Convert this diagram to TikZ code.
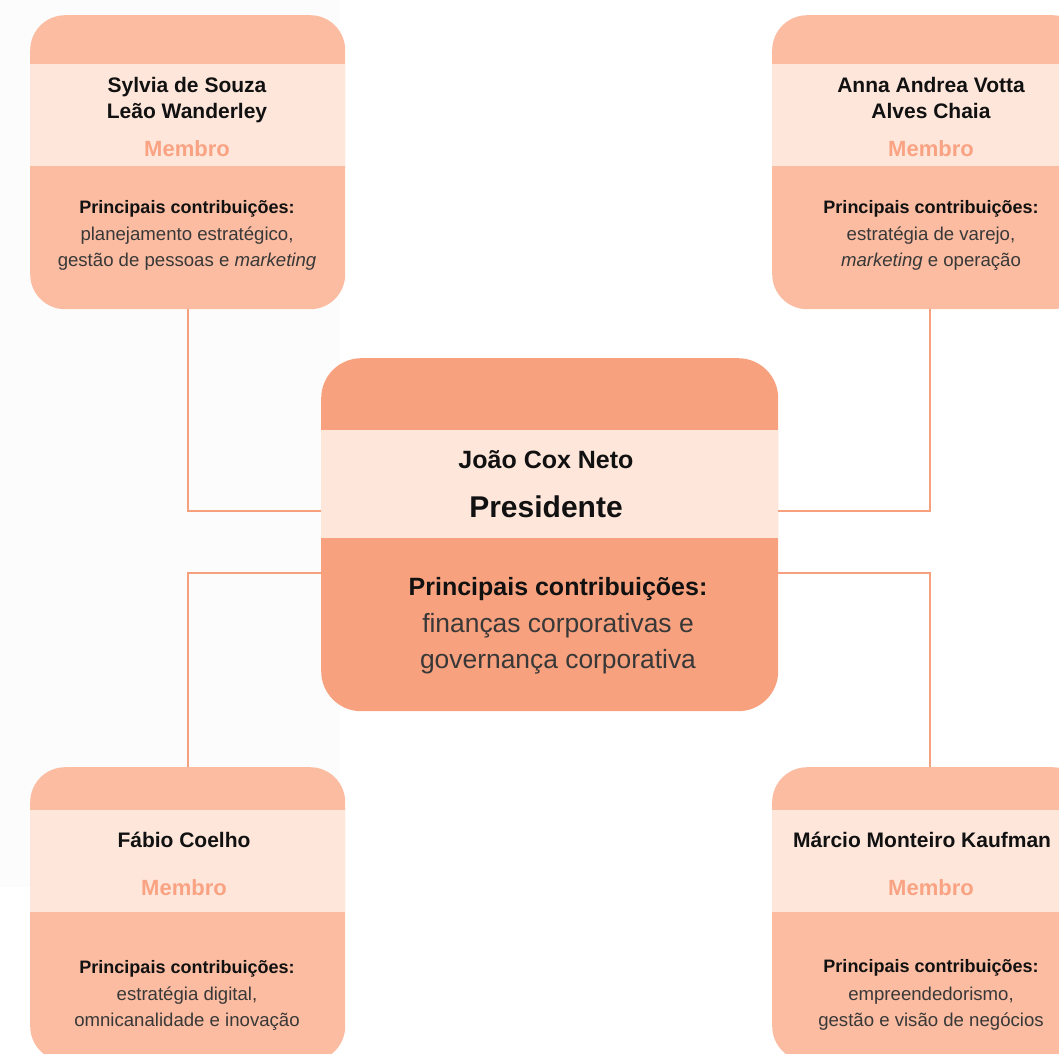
\documentclass[tikz,border=0pt]{standalone}
\usepackage{fontspec}
\setmainfont{Liberation Sans}
\definecolor{boxc}{HTML}{FBBCA1}
\definecolor{bandc}{HTML}{FEE6DB}
\definecolor{ceoc}{HTML}{F7A17E}
\definecolor{rolec}{HTML}{F9A383}
\definecolor{linec}{HTML}{F7A07E}
\definecolor{namec}{HTML}{111111}
\definecolor{bodyc}{HTML}{383838}
\definecolor{bgc}{HTML}{FCFCFC}
\begin{document}
\begin{tikzpicture}[x=1pt,y=-1pt,
  memberbox/.style={fill=boxc, rounded corners=35pt, minimum width=315pt, minimum height=294pt, anchor=north west, inner sep=0pt},
  ceobox/.style={fill=ceoc, rounded corners=40pt, minimum width=457pt, minimum height=353pt, anchor=north west, inner sep=0pt},
  band/.style={fill=bandc, anchor=north west, inner sep=0pt},
  conn/.style={draw=linec, line width=2pt},
  txt/.style={inner sep=0pt, anchor=base},
  pname/.style={txt, font=\fontsize{21}{26}\selectfont\bfseries, text=namec},
  prole/.style={txt, font=\fontsize{22}{26}\selectfont\bfseries, text=rolec},
  phead/.style={txt, font=\fontsize{18}{22}\selectfont\bfseries, text=namec},
  pbody/.style={txt, font=\fontsize{18.6}{25}\selectfont, text=bodyc},
  cname/.style={txt, font=\fontsize{25}{30}\selectfont\bfseries, text=namec},
  crole/.style={txt, font=\fontsize{30}{36}\selectfont\bfseries, text=namec},
  chead/.style={txt, font=\fontsize{25}{30}\selectfont\bfseries, text=namec},
  cbody/.style={txt, font=\fontsize{26.4}{36}\selectfont, text=bodyc}
]
\useasboundingbox (0,0) rectangle (1059,1053);
\clip (0,0) rectangle (1059,1053);
% faint background panel
\fill[bgc] (0,0) rectangle (340,887);

% boxes
\node[memberbox] (tl) at (30,15) {};
\node[memberbox] (tr) at (772,15) {};
\node[memberbox] (bl) at (30,767) {};
\node[memberbox] (br) at (772,767) {};
\node[ceobox] (ceo) at (321,358) {};

% connector coordinates on the president box
\coordinate (ceoNW) at (321,511);
\coordinate (ceoNE) at (778,511);
\coordinate (ceoSW) at (321,573);
\coordinate (ceoSE) at (778,573);

% bands
\node[band, minimum width=315pt, minimum height=102pt] (tlb) at (30,64) {};
\node[band, minimum width=315pt, minimum height=102pt] (trb) at (772,64) {};
\node[band, minimum width=315pt, minimum height=102pt] (blb) at (30,810) {};
\node[band, minimum width=315pt, minimum height=102pt] (brb) at (772,810) {};
\node[band, minimum width=457pt, minimum height=108pt] (ceob) at (321,430) {};

% connectors drawn from box to box
\draw[conn] (tl.south) |- (ceoNW);
\draw[conn] (tr.south) |- (ceoNE);
\draw[conn] (ceoSW) -| (bl.north);
\draw[conn] (ceoSE) -| (br.north);

% top-left texts
\node[pname] (tl1) at (187,92) {Sylvia de Souza};
\node[pname] (tl2) at (187,118) {Leão Wanderley};
\node[prole] (tl3) at (187,156) {Membro};
\node[phead] (tl4) at (187,213) {Principais contribuições:};
\node[pbody] (tl5) at (187,240) {planejamento estratégico,};
\node[pbody] (tl6) at (187,266) {gestão de pessoas e \textit{marketing}};

% top-right texts
\node[pname] (tr1) at (931,92) {Anna Andrea Votta};
\node[pname] (tr2) at (931,118) {Alves Chaia};
\node[prole] (tr3) at (931,156) {Membro};
\node[phead] (tr4) at (931,213) {Principais contribuições:};
\node[pbody] (tr5) at (931,240) {estratégia de varejo,};
\node[pbody] (tr6) at (931,266) {\textit{marketing} e operação};

% president texts
\node[cname] (c1) at (546,468) {João Cox Neto};
\node[crole] (c2) at (546,517) {Presidente};
\node[chead] (c3) at (558,595) {Principais contribuições:};
\node[cbody] (c4) at (558,632) {finanças corporativas e};
\node[cbody] (c5) at (558,668) {governança corporativa};

% bottom-left texts
\node[pname] (bl1) at (184,847) {Fábio Coelho};
\node[prole] (bl2) at (184,895) {Membro};
\node[phead] (bl3) at (187,973) {Principais contribuições:};
\node[pbody] (bl4) at (187,1000) {estratégia digital,};
\node[pbody] (bl5) at (187,1026) {omnicanalidade e inovação};

% bottom-right texts
\node[pname, anchor=base west] (br1) at (793,847) {Márcio Monteiro Kaufman};
\node[prole] (br2) at (931,895) {Membro};
\node[phead] (br3) at (931,972) {Principais contribuições:};
\node[pbody] (br4) at (931,1000) {empreendedorismo,};
\node[pbody] (br5) at (931,1026) {gestão e visão de negócios};
\end{tikzpicture}
\end{document}
